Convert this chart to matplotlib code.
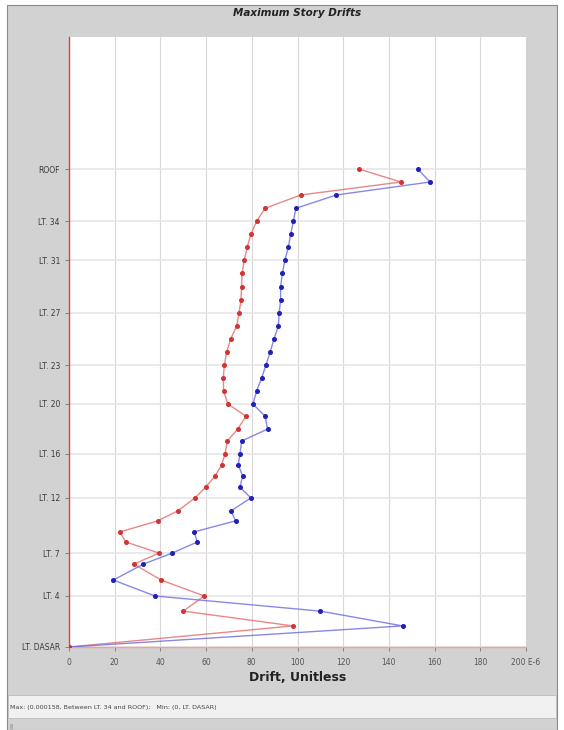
import matplotlib
matplotlib.use('Agg')
import matplotlib.pyplot as plt
from matplotlib.patches import Rectangle

# story elevations (m) from base to roof
stories = ['LT. DASAR'] + ['LT. %d' % i for i in range(2, 38)] + ['ROOF']
elevations = [0.0, 5.7, 9.7, 13.8, 18.1, 22.4, 25.4, 28.4, 31.1, 34.1, 36.8,
              40.3, 43.2, 46.2, 49.2, 52.2, 55.7, 58.9, 62.4, 65.7, 69.2,
              72.7, 76.2, 79.7, 83.2, 86.8, 90.3, 93.8, 97.3, 101.1, 104.6,
              108.1, 111.6, 115.1, 118.6, 122.2, 125.7, 129.2]

# drifts (E-6), red = X direction, blue = Y direction
drift_x = [0, 98, 50, 59.2, 40.3, 28.4, 39.4, 24.8, 22.3, 38.8, 47.6,
           55.1, 59.8, 63.9, 66.8, 68.3, 69.3, 73.8, 77.5, 69.5, 67.7,
           67.5, 68.0, 69.0, 70.7, 73.4, 74.4, 75.3, 75.5, 75.8, 76.7,
           78.0, 79.6, 82.1, 85.8, 101.5, 145.3, 126.9]
drift_y = [0, 146, 110, 37.6, 19.4, 32.5, 45.2, 56.2, 54.7, 72.9, 70.9,
           79.6, 74.8, 76.0, 74.1, 74.8, 75.6, 86.9, 85.8, 80.5, 82.1,
           84.3, 86.2, 88.0, 89.7, 91.6, 92.0, 92.6, 92.6, 93.4, 94.5,
           96.0, 97.0, 98.2, 99.3, 117.0, 158.0, 152.6]

tick_stories = ['LT. DASAR', 'LT. 4', 'LT. 7', 'LT. 12', 'LT. 16', 'LT. 20',
                'LT. 23', 'LT. 27', 'LT. 31', 'LT. 34', 'ROOF']
x_ticks = [0, 20, 40, 60, 80, 100, 120, 140, 160, 180, 200]
x_labels = ['0', '20', '40', '60', '80', '100', '120', '140', '160', '180',
            '200 E-6']

W, H = 564, 730
fig = plt.figure(figsize=(W / 100, H / 100), dpi=100)
fig.patch.set_facecolor('white')


def px_rect(x0, y0, x1, y1, **kw):
    # rectangle in pixel coords (top-left origin), drawn behind the axes
    r = Rectangle((x0 / W, 1 - y1 / H), (x1 - x0) / W, (y1 - y0) / H,
                  transform=fig.transFigure, zorder=-10, **kw)
    fig.patches.append(r)


px_rect(7, 5, 557, 730, facecolor='#d2d2d2', edgecolor='#8a8a8a', lw=0.8)
px_rect(8, 695, 556, 718, facecolor='#f1f1f1', edgecolor='#bdbdbd', lw=0.6)

ax = fig.add_axes([69 / W, 1 - 647 / H, (526 - 69) / W, (647 - 37) / H])
ax.set_facecolor('white')

ax.plot(drift_x, elevations, '-', color='#e36a6a', lw=1.0, alpha=0.8, zorder=3)
ax.plot(drift_y, elevations, '-', color='#6a6ae3', lw=1.0, alpha=0.8, zorder=3)
ax.plot(drift_y, elevations, 'o', color='#2020b8', ms=2.6, zorder=4)
ax.plot(drift_x, elevations, 'o', color='#d03535', ms=2.6, zorder=5)

ax.set_xlim(0, 200)
ax.set_ylim(0, 164.9)
ax.set_xticks(x_ticks)
ax.set_xticklabels(x_labels)
tick_elev = [elevations[stories.index(s)] for s in tick_stories]
ax.set_yticks(tick_elev)
ax.set_yticklabels(tick_stories)
ax.tick_params(axis='both', labelsize=5.5, labelcolor='#3a3a3a',
               color='#777777', length=3, width=0.6)
ax.tick_params(axis='x', pad=5, labelcolor='#555555')

ax.grid(axis='x', color='#d8d8d8', lw=0.8)
ax.grid(axis='y', color='#e6e6e6', lw=1.2)
ax.set_axisbelow(True)

for s in ['top', 'right']:
    ax.spines[s].set_visible(False)
ax.spines['left'].set_color('#ec3b3b')
ax.spines['left'].set_linewidth(1.0)
ax.spines['bottom'].set_color('#f0a0a0')
ax.spines['bottom'].set_linewidth(1.0)

ax.set_xlabel('Drift, Unitless', fontsize=9, fontweight='bold',
              color='#222222', labelpad=3)
fig.text(297 / W, 1 - 13 / H, 'Maximum Story Drifts', ha='center',
         va='center', fontsize=7.5, fontweight='bold', style='italic',
         color='#222222')
fig.text(10 / W, 1 - 707 / H,
         'Max: (0.000158, Between LT. 34 and ROOF);   Min: (0, LT. DASAR)',
         ha='left', va='center', fontsize=4.6, color='#444444')
fig.text(9 / W, 1 - 726 / H, '||', ha='left', va='center', fontsize=4,
         color='#555555')

fig.savefig('out.png', dpi=100)
